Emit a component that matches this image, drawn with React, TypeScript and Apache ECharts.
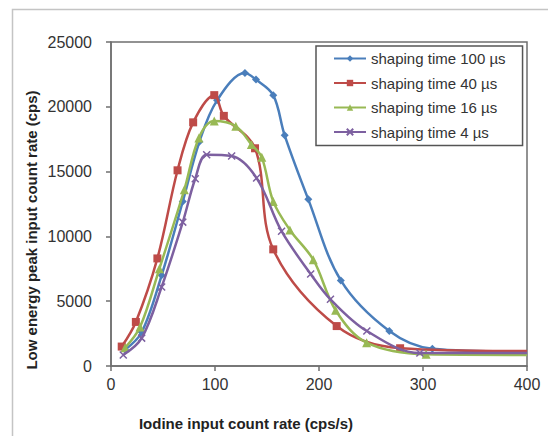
import React, { useEffect, useRef } from "react";
import * as echarts from "echarts";

const seriesNames = [
  "shaping time 100 µs",
  "shaping time 40 µs",
  "shaping time 16 µs",
  "shaping time 4 µs",
];

const blue100: number[][] = [
  [13.5, 1250], [29.5, 2600], [48.7, 7000], [69, 12700], [85, 17300], [102, 20500],
  [128.8, 22600], [139.4, 22100], [156, 20900], [167, 17800], [189.7, 12860],
  [221, 6600], [267.6, 2700], [309, 1330], [400, 1100],
];
const red40: number[][] = [
  [10.3, 1500], [23.9, 3400], [44.6, 8300], [64, 15100], [79, 18800], [99.3, 20900],
  [108.5, 19300], [138.5, 16800], [156, 9000], [217, 3080], [278, 1370], [400, 1150],
];
const green16: number[][] = [
  [13.5, 1400], [27.9, 3000], [46.5, 7500], [70.5, 13600], [84.5, 17600], [99.3, 18900],
  [120, 18500], [135, 17100], [145, 16100], [156, 12700], [172, 10500], [194.5, 8200],
  [216, 4300], [245.8, 1800], [303, 900], [400, 850],
];
const purple4: number[][] = [
  [11.8, 850], [29.5, 2150], [48.7, 6100], [69, 11100], [81, 14450], [92, 16300],
  [116, 16200], [140, 14500], [164, 10400], [192, 7100], [211, 5150], [246, 2700],
  [297, 1000], [400, 1000],
];

const xTitle = "Iodine input count rate (cps/s)";
const yTitle = "Low energy peak input count rate (cps)";

const colors = ["#4a7ebb", "#be4b48", "#98b954", "#7d60a0"];
const symbols = [
  "diamond",
  "rect",
  "triangle",
  "path://M0,0 L10,10 M10,0 L0,10",
];

function toData(arr: number[][]) {
  return arr.map((p, i) =>
    i === arr.length - 1 ? { value: p, symbol: "none" } : { value: p }
  );
}

export default function App() {
  const ref = useRef<HTMLDivElement>(null);
  useEffect(() => {
    if (!ref.current) return;
    const chart = echarts.init(ref.current, null, { renderer: "svg" });
    const all = [blue100, red40, green16, purple4];
    const font = "'Liberation Sans', Arial, sans-serif";
    chart.setOption({
      animation: false,
      backgroundColor: "#ffffff",
      textStyle: { fontFamily: font },
      grid: {
        left: 111,
        right: 21,
        top: 42,
        bottom: 70,
        show: true,
        borderColor: "#6f6f6f",
        borderWidth: 1.5,
        backgroundColor: "#ffffff",
      },
      xAxis: {
        type: "value",
        min: 0,
        max: 400,
        interval: 100,
        splitLine: { show: false },
        axisLine: { show: true, lineStyle: { color: "#6f6f6f", width: 1.5 } },
        axisTick: { show: true, length: 5, lineStyle: { color: "#6f6f6f", width: 1.5 } },
        axisLabel: {
          margin: 10,
          fontSize: 16,
          color: "#333",
          fontFamily: font,
          formatter: (v: number) => String(v),
        },
      },
      yAxis: {
        type: "value",
        min: 0,
        max: 25000,
        interval: 5000,
        splitLine: { show: false },
        axisLine: { show: true, lineStyle: { color: "#6f6f6f", width: 1.5 } },
        axisTick: { show: true, length: 5, lineStyle: { color: "#6f6f6f", width: 1.5 } },
        axisLabel: {
          margin: 19,
          fontSize: 16,
          color: "#333",
          fontFamily: font,
          formatter: (v: number) => String(v),
        },
      },
      legend: {
        orient: "vertical",
        left: 316,
        top: 46,
        padding: [5, 17, 6, 17],
        itemGap: 9.5,
        itemWidth: 32,
        itemHeight: 8,
        backgroundColor: "#ffffff",
        borderColor: "#555",
        borderWidth: 1.5,
        borderRadius: 0,
        textStyle: { fontSize: 15, color: "#333", fontFamily: font },
        data: seriesNames,
      },
      graphic: [
        {
          type: "rect",
          shape: { x: 12.5, y: 9.5, width: 600, height: 500 },
          style: { fill: "none", stroke: "#c4c4c4", lineWidth: 1.5 },
          z: 100,
        },
        {
          type: "text",
          x: 246,
          y: 423,
          style: {
            text: xTitle,
            fontSize: 15,
            fontWeight: "bold",
            fill: "#222",
            fontFamily: font,
            align: "center",
            verticalAlign: "middle",
          },
        },
        {
          type: "text",
          x: 31,
          y: 230,
          rotation: Math.PI / 2,
          style: {
            text: yTitle,
            fontSize: 15,
            fontWeight: "bold",
            fill: "#222",
            fontFamily: font,
            align: "center",
            verticalAlign: "middle",
          },
        },
      ],
      series: all.map((arr, i) => ({
        name: seriesNames[i],
        type: "line",
        data: toData(arr),
        smooth: 0.35,
        symbol: symbols[i],
        symbolSize: i === 3 ? 7 : i === 2 ? 9 : 8,
        lineStyle: { color: colors[i], width: 2.5 },
        itemStyle: {
          color: i === 3 ? "rgba(0,0,0,0)" : colors[i],
          borderColor: colors[i],
          borderWidth: i === 3 ? 1.5 : 0,
        },
        z: 2 + i,
      })),
    });
    return () => chart.dispose();
  }, []);
  return (
    <div
      ref={ref}
      style={{ position: "fixed", left: 0, top: 0, width: 548, height: 436 }}
    />
  );
}
